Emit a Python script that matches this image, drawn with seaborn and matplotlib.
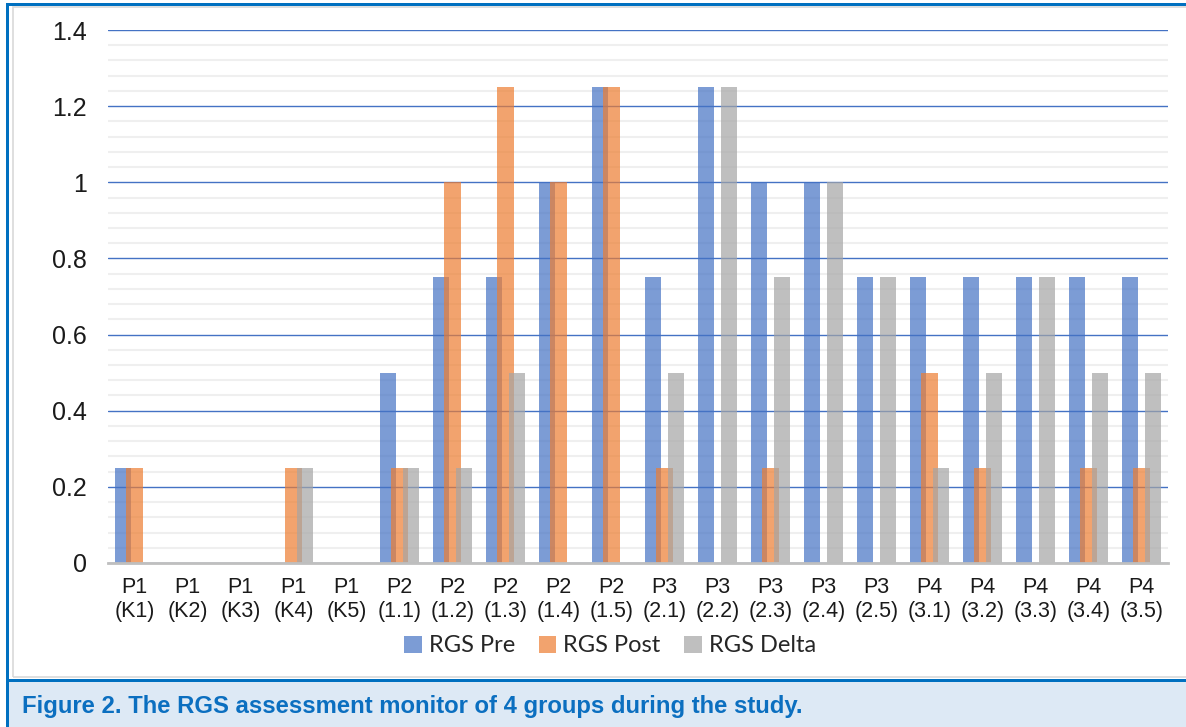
import numpy as np
import pandas as pd
import matplotlib
matplotlib.use("Agg")
import matplotlib.pyplot as plt
import seaborn as sns
from matplotlib.patches import Rectangle, Patch
from matplotlib.ticker import MultipleLocator

# ---------------- data ----------------
groups = ["P1", "P1", "P1", "P1", "P1",
          "P2", "P2", "P2", "P2", "P2",
          "P3", "P3", "P3", "P3", "P3",
          "P4", "P4", "P4", "P4", "P4"]
codes = ["(K1)", "(K2)", "(K3)", "(K4)", "(K5)",
         "(1.1)", "(1.2)", "(1.3)", "(1.4)", "(1.5)",
         "(2.1)", "(2.2)", "(2.3)", "(2.4)", "(2.5)",
         "(3.1)", "(3.2)", "(3.3)", "(3.4)", "(3.5)"]
rgs_pre = [0.25, 0, 0, 0, 0,
           0.5, 0.75, 0.75, 1.0, 1.25,
           0.75, 1.25, 1.0, 1.0, 0.75,
           0.75, 0.75, 0.75, 0.75, 0.75]
rgs_post = [0.25, 0, 0, 0.25, 0,
            0.25, 1.0, 1.25, 1.0, 1.25,
            0.25, 0, 0.25, 0, 0,
            0.5, 0.25, 0, 0.25, 0.25]
rgs_delta = [0, 0, 0, 0.25, 0,
             0.25, 0.25, 0.5, 0, 0,
             0.5, 1.25, 0.75, 1.0, 0.75,
             0.25, 0.5, 0.75, 0.5, 0.5]
series_names = ["RGS Pre", "RGS Post", "RGS Delta"]
ytick_values = [0, 0.2, 0.4, 0.6, 0.8, 1.0, 1.2, 1.4]
ytick_labels = ["0", "0.2", "0.4", "0.6", "0.8", "1", "1.2", "1.4"]
caption = "Figure 2. The RGS assessment monitor of 4 groups during the study."

categories = [f"{g}\n{c}" for g, c in zip(groups, codes)]

# ---------------- style ----------------
sns.set_theme(style="white")
plt.rcParams['font.family'] = ['Liberation Sans', 'DejaVu Sans']

palette = ["#4472C4", "#ED7D31", "#A5A5A5"]
BAR_ALPHA = 0.7
W, H = 1186, 727

fig = plt.figure(figsize=(W / 100, H / 100), dpi=100)
fig.patch.set_facecolor("white")

def fx(px):
    return px / W

def fy(py):
    return 1 - py / H

ax = fig.add_axes([fx(108), fy(563), fx(1168) - fx(108), fy(30) - fy(563)])

df = pd.DataFrame({
    "category": categories * 3,
    "value": rgs_pre + rgs_post + rgs_delta,
    "series": [series_names[0]] * len(categories)
              + [series_names[1]] * len(categories)
              + [series_names[2]] * len(categories),
})

offset = 0.226   # distance between neighbouring bars (category units)
bar_w = 0.302    # each bar's width (bars overlap, Excel-style)
sns.barplot(data=df, x="category", y="value", hue="series",
            hue_order=series_names, order=categories,
            palette=palette, saturation=1, dodge=True,
            width=3 * offset, alpha=BAR_ALPHA, errorbar=None,
            linewidth=0, legend=False, ax=ax)

# widen every bar around its own centre so neighbours overlap
for p in ax.patches:
    c = p.get_x() + p.get_width() / 2
    p.set_width(bar_w)
    p.set_x(c - bar_w / 2)

ax.set_xlim(-0.5, len(categories) - 0.5)
ax.set_ylim(0, 1.4)
ax.set_yticks(ytick_values)
ax.set_yticklabels(ytick_labels)
ax.yaxis.set_minor_locator(MultipleLocator(0.04))
ax.set_axisbelow(True)
ax.grid(which="minor", axis="y", color="#EFEFEF", linewidth=1.5)
ax.grid(which="major", axis="y", color="#4472C4", linewidth=1.0)
ax.set_xlabel("")
ax.set_ylabel("")

for s in ["top", "right", "left"]:
    ax.spines[s].set_visible(False)
ax.spines["bottom"].set_color("#BFBFBF")
ax.spines["bottom"].set_linewidth(2.0)
ax.spines["bottom"].set_zorder(3)

ax.tick_params(axis="y", which="both", length=0, pad=15, labelsize=18, labelcolor="#1A1A1A")
ax.tick_params(axis="x", which="both", length=0, pad=10, labelsize=15.5, labelcolor="#1A1A1A")
for t in ax.get_xticklabels():
    t.set_linespacing(1.2)

handles = [Patch(facecolor=c, alpha=BAR_ALPHA, edgecolor="none") for c in palette]
fig.legend(handles, series_names, loc="center", bbox_to_anchor=(fx(610), fy(646)),
           ncol=3, frameon=False, handlelength=0.75, handleheight=0.75,
           handletextpad=0.3, columnspacing=1.0,
           prop={"family": ["Lato", "DejaVu Sans"], "size": 17})

# ---------------- frame & caption ----------------
# chart area border (light grey)
fig.patches.append(Rectangle((fx(12.5), fy(677)), fx(1200) - fx(12.5), fy(6.5) - fy(677),
                             transform=fig.transFigure, fill=False,
                             edgecolor="#D9D9D9", linewidth=1.2, zorder=0))
# caption background
fig.patches.append(Rectangle((fx(8), 0), 1 - fx(8), fy(680),
                             transform=fig.transFigure, facecolor="#DDE9F5",
                             edgecolor="none", zorder=0))
# blue separator line
fig.patches.append(Rectangle((fx(8), fy(681.5)), 1 - fx(8), fy(679) - fy(681.5),
                             transform=fig.transFigure, facecolor="#0070C0",
                             edgecolor="none", zorder=1))
# outer blue frame (left and top)
fig.patches.append(Rectangle((fx(5.5), 0), fx(8.5) - fx(5.5), fy(3.5),
                             transform=fig.transFigure, facecolor="#0070C0",
                             edgecolor="none", zorder=1))
fig.patches.append(Rectangle((fx(5.5), fy(6.3)), 1 - fx(5.5), fy(3.5) - fy(6.3),
                             transform=fig.transFigure, facecolor="#0070C0",
                             edgecolor="none", zorder=1))

fig.text(fx(22), fy(707), caption, ha="left", va="center",
         fontsize=17.2, fontweight="bold", color="#0B6FC0",
         family=["Liberation Sans", "DejaVu Sans"])

fig.savefig("out.png", dpi=100)
